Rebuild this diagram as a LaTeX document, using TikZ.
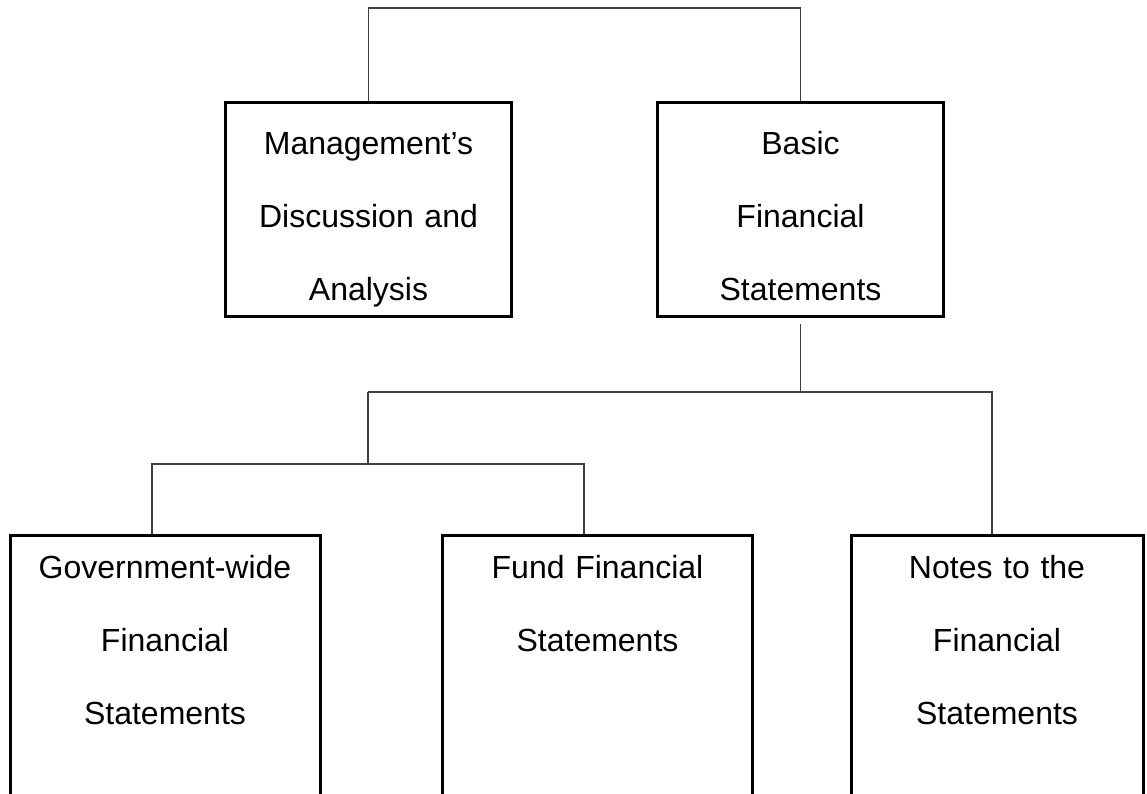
\documentclass[tikz,border=0pt]{standalone}
\usepackage{fontspec}
\setmainfont{Liberation Sans}
\usepackage{tikz}
\usetikzlibrary{positioning}
\definecolor{linkgray}{HTML}{404040}

\begin{document}
\begin{tikzpicture}[
    x=1pt, y=-1pt,
    font=\fontsize{32}{73}\selectfont,
    % Node styles
    statement/.style={rectangle, draw=black, line width=3pt, inner sep=0pt, anchor=north, align=center},
    topbox/.style={statement, text width=286pt, text height=52pt, text depth=162pt},
    lowbox/.style={statement, text width=310pt, text height=43pt, text depth=330pt},
    link/.style={draw=linkgray, line width=1.6pt},
]
\useasboundingbox (0,0) rectangle (1147,793);
\clip (0,0) rectangle (1147,793);

% Top level
\node[topbox] (mda) at (368.5,101) {Management’s\\Discussion and\\Analysis};
\node[topbox] (bfs) at (800.5,101) {Basic\\Financial\\Statements};

% Basic financial statements parts
\node[lowbox] (gov) at (165,534) {Government-wide\\Financial\\Statements};
\node[lowbox] (fund) at (597.5,534) {Fund Financial\\Statements};
\node[lowbox, text width=292pt] (notes) at (997,534) {Notes to the\\Financial\\Statements};

% Junction points
\coordinate (top) at (584,8);
\coordinate (splitL) at (368,392);
\coordinate (splitR) at (992,392);
\coordinate (forkL) at (152,464);
\coordinate (forkR) at (584,464);

% Connectors
\draw[link] (mda.north) |- (top) -| (bfs.north);
\draw[link, shorten <=6pt] (bfs.south) -- (bfs.south |- splitR);
\draw[link] (splitL) -- (splitR) -- (splitR |- notes.north);
\draw[link] (splitL) -- (splitL |- forkL);
\draw[link] (forkL |- gov.north) -- (forkL) -- (forkR) -- (forkR |- fund.north);

\end{tikzpicture}
\end{document}
